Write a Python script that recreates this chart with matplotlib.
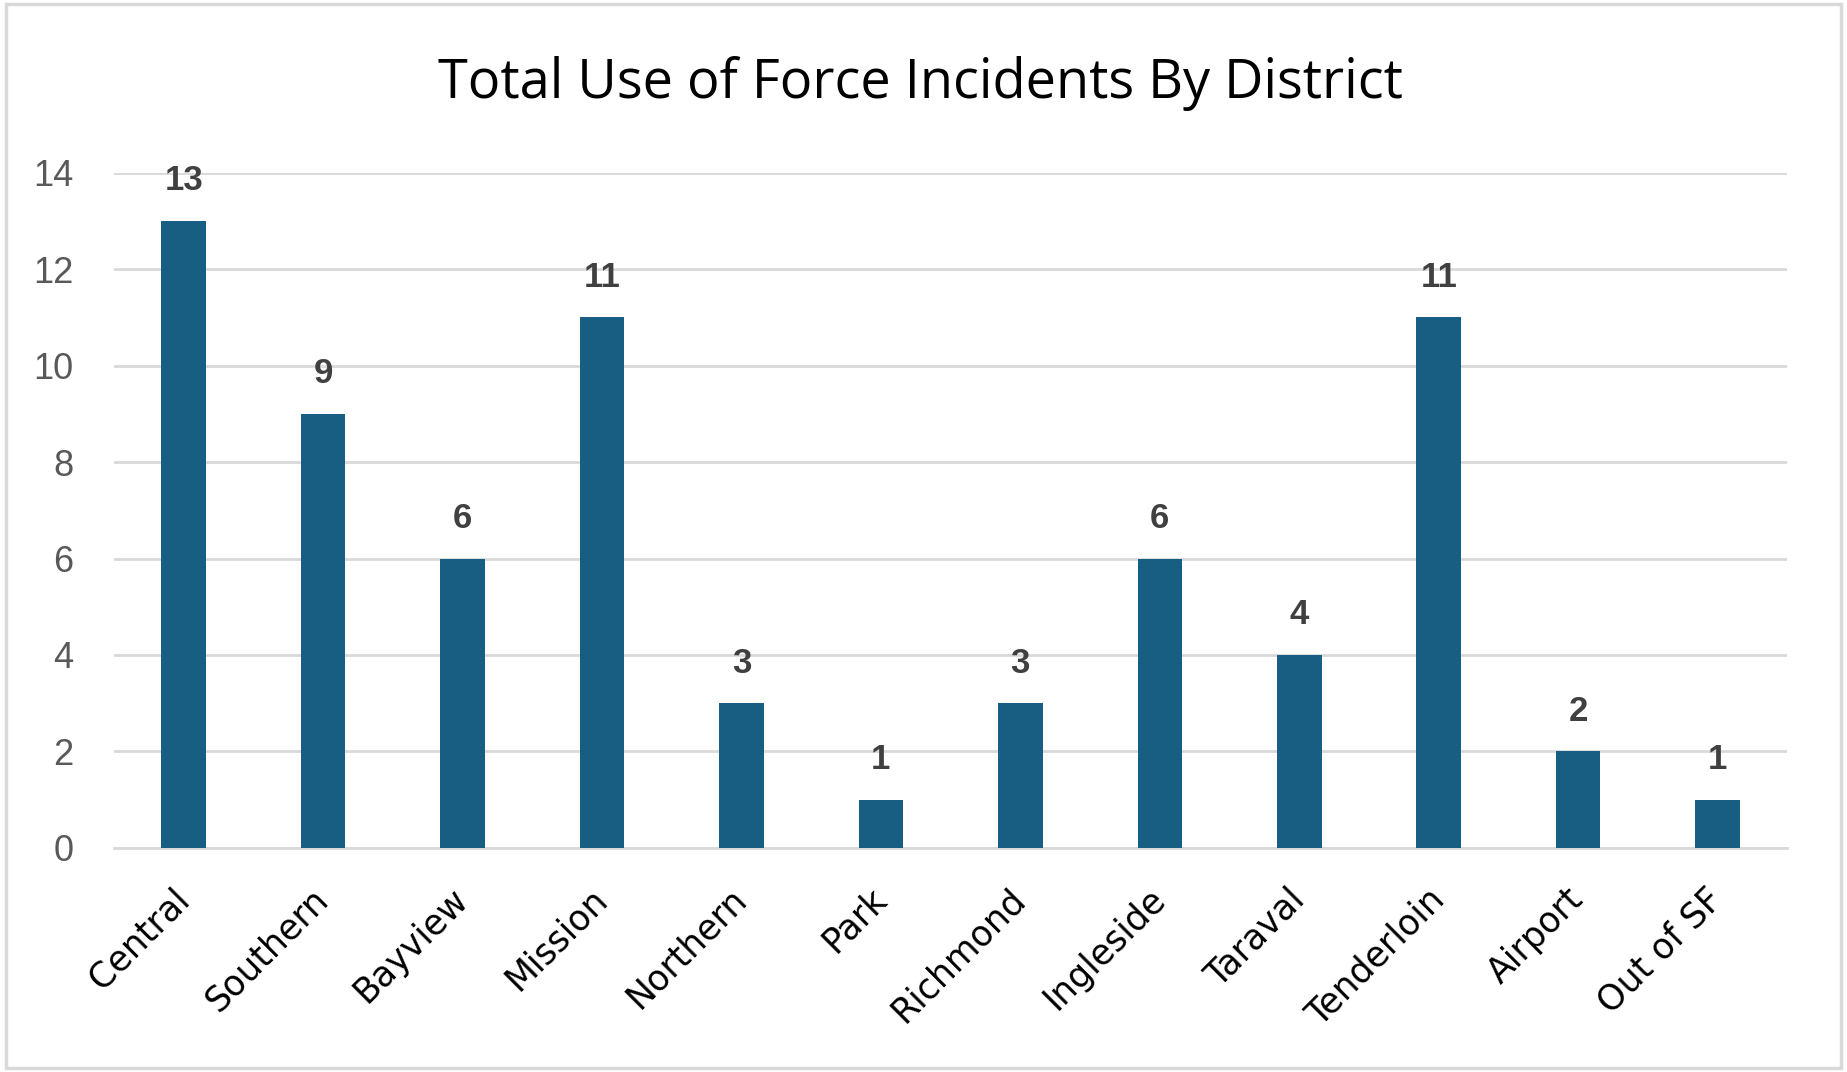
import matplotlib
matplotlib.use("Agg")
import matplotlib.pyplot as plt
from matplotlib.patches import Rectangle

districts = ["Central", "Southern", "Bayview", "Mission", "Northern", "Park",
             "Richmond", "Ingleside", "Taraval", "Tenderloin", "Airport", "Out of SF"]
incidents = [13, 9, 6, 11, 3, 1, 3, 6, 4, 11, 2, 1]
yticks = [0, 2, 4, 6, 8, 10, 12, 14]
title = "Total Use of Force Incidents By District"

BAR = "#175E82"
GRID = "#D9D9D9"

fig = plt.figure(figsize=(18.47, 10.72), dpi=100)
ax = fig.add_axes([0.0617, 0.209, 0.906, 0.630])

x = list(range(len(districts)))
ax.bar(x, incidents, width=0.32, color=BAR, zorder=3)
ax.set_xlim(-0.5, len(districts) - 0.5)
ax.set_ylim(0, 14)
ax.set_yticks(yticks)
ax.set_yticklabels([str(v) for v in yticks], fontsize=26, color="#595959",
                   family="Liberation Sans")
ax.yaxis.grid(True, color=GRID, linewidth=2, zorder=0)
ax.tick_params(axis="y", length=0, pad=29)
ax.tick_params(axis="x", length=0, pad=33)
for s in ["top", "right", "left"]:
    ax.spines[s].set_visible(False)
ax.spines["bottom"].set_color(GRID)
ax.spines["bottom"].set_linewidth(2)

ax.set_xticks(x)
ax.set_xticklabels(districts, rotation=45, ha="right", va="center",
                   rotation_mode="anchor", fontsize=25, color="black",
                   family="DejaVu Sans")

for xi, v in zip(x, incidents):
    ax.annotate(str(v), (xi, v), xytext=(0, 17), textcoords="offset points",
                ha="center", va="bottom", fontsize=25, fontweight="bold",
                color="#404040", family="Liberation Sans")

fig.text(0.4985, 0.922, title, ha="center", va="center", fontsize=39,
         color="black", family="Open Sans", fontweight="medium")

fig.patches.append(Rectangle((0.003, 0.004), 0.994, 0.992, transform=fig.transFigure,
                             fill=False, edgecolor="#D9D9D9", linewidth=2.5))

fig.savefig("out.png", dpi=100)
